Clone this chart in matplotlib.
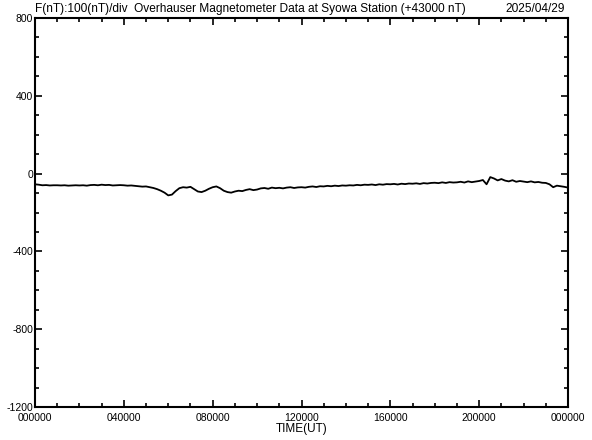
import matplotlib
matplotlib.use("Agg")
import matplotlib.pyplot as plt
import numpy as np

plt.rcParams['font.family'] = ['Liberation Sans', 'DejaVu Sans']

# F (nT) minus 43000, 10-minute samples, hours 0..24
f_values = [
    -55, -57, -60, -59, -61, -60,
    -60, -61, -60, -62, -61, -60,
    -61, -60, -62, -59, -58, -60,
    -57, -59, -58, -61, -60, -59,
    -60, -62, -61, -63, -65, -67,
    -66, -70, -74, -80, -88, -98,
    -112, -108, -90, -75, -70, -72,
    -68, -80, -92, -95, -88, -78,
    -70, -66, -75, -88, -95, -98,
    -92, -88, -90, -84, -80, -85,
    -82, -76, -74, -78, -72, -75,
    -73, -76, -72, -70, -74, -71,
    -70, -72, -68, -66, -69, -65,
    -66, -63, -65, -62, -64, -61,
    -62, -60, -61, -58, -60, -57,
    -58, -56, -59, -55, -57, -54,
    -55, -53, -56, -52, -54, -51,
    -52, -50, -53, -49, -51, -48,
    -47, -49, -45, -48, -44, -46,
    -45, -42, -46, -40, -44, -41,
    -38, -33, -55, -18, -25, -35,
    -28, -36, -40, -34, -42, -38,
    -41, -44, -40, -45, -43, -47,
    -48, -55, -70, -62, -65, -68,
    -72,
]
hours = [i / 6 for i in range(len(f_values))]

x_tick_hours = [0, 4, 8, 12, 16, 20, 24]
x_tick_labels = ["000000", "040000", "080000", "120000", "160000", "200000", "000000"]
y_tick_values = [800, 400, 0, -400, -800, -1200]
y_tick_labels = ["800", "400", "0", "-400", "-800", "-1200"]

fig = plt.figure(figsize=(5.92, 4.40), dpi=100)
ax = fig.add_axes([35/592, 33/440, 533/592, 389/440])
ax.plot(hours, f_values, color='black', lw=1.3)
ax.set_xlim(0, 24)
ax.set_ylim(-1200, 800)

ax.set_xticks(x_tick_hours)
ax.set_xticklabels(x_tick_labels, fontsize=7.5)
ax.set_xticks(np.arange(0, 25, 1), minor=True)
ax.set_yticks(y_tick_values)
ax.set_yticklabels(y_tick_labels, fontsize=7.5)
ax.set_yticks(np.arange(-1200, 801, 100), minor=True)

ax.tick_params(which='both', direction='in', top=True, right=True, width=1.2, color='black')
ax.tick_params(axis='y', which='both', pad=1.5)
ax.tick_params(axis='x', which='both', pad=4)
ax.tick_params(which='major', length=5)
ax.tick_params(which='minor', length=3)
for s in ax.spines.values():
    s.set_linewidth(1.5)

ax.set_xlabel("TIME(UT)", fontsize=8.5, labelpad=0.5)
fig.text(35/592, 1 - 12/440, "F(nT):100(nT)/div  Overhauser Magnetometer Data at Syowa Station (+43000 nT)",
         fontsize=8.6, ha='left', va='baseline')
fig.text(565/592, 1 - 12/440, "2025/04/29", fontsize=8.6, ha='right', va='baseline')

fig.savefig("out.png", dpi=100)
